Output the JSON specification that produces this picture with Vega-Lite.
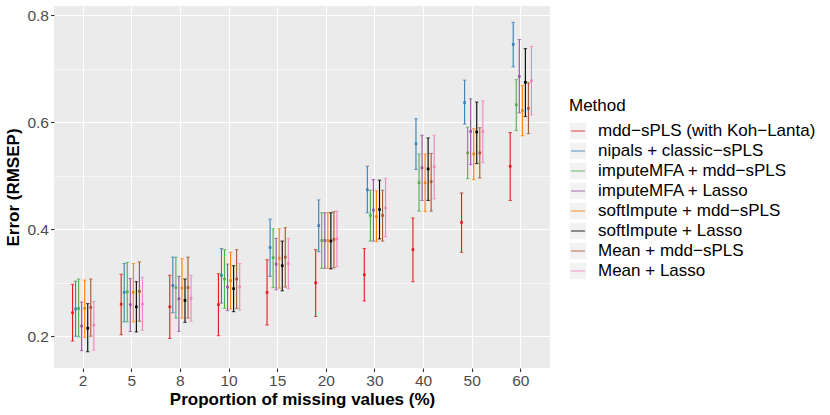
{
  "$schema": "https://vega.github.io/schema/vega-lite/v6.json",
  "width": 496,
  "height": 362,
  "autosize": {"type": "none"},
  "padding": {"left": 54, "top": 6, "right": 280, "bottom": 47},
  "background": "white",
  "data": {
    "values": [
      {"pct": 2, "method": "mdd−sPLS (with Koh−Lanta)", "mean": 0.244, "lo": 0.191, "hi": 0.297},
      {"pct": 2, "method": "nipals + classic−sPLS", "mean": 0.251, "lo": 0.200, "hi": 0.303},
      {"pct": 2, "method": "imputeMFA + mdd−sPLS", "mean": 0.252, "lo": 0.199, "hi": 0.307},
      {"pct": 2, "method": "imputeMFA + Lasso", "mean": 0.219, "lo": 0.173, "hi": 0.264},
      {"pct": 2, "method": "softImpute + mdd−sPLS", "mean": 0.252, "lo": 0.198, "hi": 0.305},
      {"pct": 2, "method": "softImpute + Lasso", "mean": 0.215, "lo": 0.171, "hi": 0.261},
      {"pct": 2, "method": "Mean + mdd−sPLS", "mean": 0.254, "lo": 0.200, "hi": 0.307},
      {"pct": 2, "method": "Mean + Lasso", "mean": 0.221, "lo": 0.174, "hi": 0.265},
      {"pct": 5, "method": "mdd−sPLS (with Koh−Lanta)", "mean": 0.260, "lo": 0.203, "hi": 0.316},
      {"pct": 5, "method": "nipals + classic−sPLS", "mean": 0.282, "lo": 0.227, "hi": 0.336},
      {"pct": 5, "method": "imputeMFA + mdd−sPLS", "mean": 0.283, "lo": 0.227, "hi": 0.338},
      {"pct": 5, "method": "imputeMFA + Lasso", "mean": 0.259, "lo": 0.209, "hi": 0.308},
      {"pct": 5, "method": "softImpute + mdd−sPLS", "mean": 0.282, "lo": 0.227, "hi": 0.336},
      {"pct": 5, "method": "softImpute + Lasso", "mean": 0.255, "lo": 0.208, "hi": 0.302},
      {"pct": 5, "method": "Mean + mdd−sPLS", "mean": 0.284, "lo": 0.228, "hi": 0.339},
      {"pct": 5, "method": "Mean + Lasso", "mean": 0.260, "lo": 0.211, "hi": 0.310},
      {"pct": 8, "method": "mdd−sPLS (with Koh−Lanta)", "mean": 0.255, "lo": 0.196, "hi": 0.314},
      {"pct": 8, "method": "nipals + classic−sPLS", "mean": 0.295, "lo": 0.244, "hi": 0.348},
      {"pct": 8, "method": "imputeMFA + mdd−sPLS", "mean": 0.291, "lo": 0.234, "hi": 0.348},
      {"pct": 8, "method": "imputeMFA + Lasso", "mean": 0.270, "lo": 0.209, "hi": 0.312},
      {"pct": 8, "method": "softImpute + mdd−sPLS", "mean": 0.290, "lo": 0.234, "hi": 0.345},
      {"pct": 8, "method": "softImpute + Lasso", "mean": 0.267, "lo": 0.226, "hi": 0.307},
      {"pct": 8, "method": "Mean + mdd−sPLS", "mean": 0.291, "lo": 0.234, "hi": 0.348},
      {"pct": 8, "method": "Mean + Lasso", "mean": 0.271, "lo": 0.228, "hi": 0.314},
      {"pct": 10, "method": "mdd−sPLS (with Koh−Lanta)", "mean": 0.259, "lo": 0.201, "hi": 0.317},
      {"pct": 10, "method": "nipals + classic−sPLS", "mean": 0.314, "lo": 0.262, "hi": 0.364},
      {"pct": 10, "method": "imputeMFA + mdd−sPLS", "mean": 0.307, "lo": 0.252, "hi": 0.362},
      {"pct": 10, "method": "imputeMFA + Lasso", "mean": 0.292, "lo": 0.248, "hi": 0.335},
      {"pct": 10, "method": "softImpute + mdd−sPLS", "mean": 0.304, "lo": 0.251, "hi": 0.357},
      {"pct": 10, "method": "softImpute + Lasso", "mean": 0.289, "lo": 0.246, "hi": 0.332},
      {"pct": 10, "method": "Mean + mdd−sPLS", "mean": 0.307, "lo": 0.252, "hi": 0.362},
      {"pct": 10, "method": "Mean + Lasso", "mean": 0.292, "lo": 0.249, "hi": 0.336},
      {"pct": 15, "method": "mdd−sPLS (with Koh−Lanta)", "mean": 0.282, "lo": 0.221, "hi": 0.343},
      {"pct": 15, "method": "nipals + classic−sPLS", "mean": 0.366, "lo": 0.312, "hi": 0.419},
      {"pct": 15, "method": "imputeMFA + mdd−sPLS", "mean": 0.347, "lo": 0.291, "hi": 0.401},
      {"pct": 15, "method": "imputeMFA + Lasso", "mean": 0.335, "lo": 0.287, "hi": 0.383},
      {"pct": 15, "method": "softImpute + mdd−sPLS", "mean": 0.346, "lo": 0.290, "hi": 0.401},
      {"pct": 15, "method": "softImpute + Lasso", "mean": 0.332, "lo": 0.285, "hi": 0.378},
      {"pct": 15, "method": "Mean + mdd−sPLS", "mean": 0.348, "lo": 0.292, "hi": 0.403},
      {"pct": 15, "method": "Mean + Lasso", "mean": 0.336, "lo": 0.289, "hi": 0.383},
      {"pct": 20, "method": "mdd−sPLS (with Koh−Lanta)", "mean": 0.300, "lo": 0.237, "hi": 0.362},
      {"pct": 20, "method": "nipals + classic−sPLS", "mean": 0.407, "lo": 0.358, "hi": 0.455},
      {"pct": 20, "method": "imputeMFA + mdd−sPLS", "mean": 0.379, "lo": 0.327, "hi": 0.431},
      {"pct": 20, "method": "imputeMFA + Lasso", "mean": 0.379, "lo": 0.327, "hi": 0.431},
      {"pct": 20, "method": "softImpute + mdd−sPLS", "mean": 0.379, "lo": 0.327, "hi": 0.431},
      {"pct": 20, "method": "softImpute + Lasso", "mean": 0.378, "lo": 0.326, "hi": 0.431},
      {"pct": 20, "method": "Mean + mdd−sPLS", "mean": 0.381, "lo": 0.328, "hi": 0.433},
      {"pct": 20, "method": "Mean + Lasso", "mean": 0.382, "lo": 0.330, "hi": 0.434},
      {"pct": 30, "method": "mdd−sPLS (with Koh−Lanta)", "mean": 0.315, "lo": 0.266, "hi": 0.364},
      {"pct": 30, "method": "nipals + classic−sPLS", "mean": 0.474, "lo": 0.431, "hi": 0.518},
      {"pct": 30, "method": "imputeMFA + mdd−sPLS", "mean": 0.426, "lo": 0.378, "hi": 0.473},
      {"pct": 30, "method": "imputeMFA + Lasso", "mean": 0.436, "lo": 0.378, "hi": 0.493},
      {"pct": 30, "method": "softImpute + mdd−sPLS", "mean": 0.424, "lo": 0.377, "hi": 0.472},
      {"pct": 30, "method": "softImpute + Lasso", "mean": 0.437, "lo": 0.382, "hi": 0.492},
      {"pct": 30, "method": "Mean + mdd−sPLS", "mean": 0.426, "lo": 0.378, "hi": 0.473},
      {"pct": 30, "method": "Mean + Lasso", "mean": 0.440, "lo": 0.386, "hi": 0.495},
      {"pct": 40, "method": "mdd−sPLS (with Koh−Lanta)", "mean": 0.362, "lo": 0.302, "hi": 0.421},
      {"pct": 40, "method": "nipals + classic−sPLS", "mean": 0.560, "lo": 0.512, "hi": 0.607},
      {"pct": 40, "method": "imputeMFA + mdd−sPLS", "mean": 0.487, "lo": 0.434, "hi": 0.541},
      {"pct": 40, "method": "imputeMFA + Lasso", "mean": 0.515, "lo": 0.454, "hi": 0.576},
      {"pct": 40, "method": "softImpute + mdd−sPLS", "mean": 0.487, "lo": 0.433, "hi": 0.541},
      {"pct": 40, "method": "softImpute + Lasso", "mean": 0.513, "lo": 0.454, "hi": 0.571},
      {"pct": 40, "method": "Mean + mdd−sPLS", "mean": 0.489, "lo": 0.434, "hi": 0.542},
      {"pct": 40, "method": "Mean + Lasso", "mean": 0.517, "lo": 0.457, "hi": 0.576},
      {"pct": 50, "method": "mdd−sPLS (with Koh−Lanta)", "mean": 0.413, "lo": 0.357, "hi": 0.468},
      {"pct": 50, "method": "nipals + classic−sPLS", "mean": 0.637, "lo": 0.597, "hi": 0.679},
      {"pct": 50, "method": "imputeMFA + mdd−sPLS", "mean": 0.543, "lo": 0.495, "hi": 0.591},
      {"pct": 50, "method": "imputeMFA + Lasso", "mean": 0.583, "lo": 0.521, "hi": 0.644},
      {"pct": 50, "method": "softImpute + mdd−sPLS", "mean": 0.541, "lo": 0.493, "hi": 0.588},
      {"pct": 50, "method": "softImpute + Lasso", "mean": 0.582, "lo": 0.523, "hi": 0.638},
      {"pct": 50, "method": "Mean + mdd−sPLS", "mean": 0.543, "lo": 0.496, "hi": 0.590},
      {"pct": 50, "method": "Mean + Lasso", "mean": 0.583, "lo": 0.525, "hi": 0.640},
      {"pct": 60, "method": "mdd−sPLS (with Koh−Lanta)", "mean": 0.518, "lo": 0.454, "hi": 0.581},
      {"pct": 60, "method": "nipals + classic−sPLS", "mean": 0.746, "lo": 0.704, "hi": 0.787},
      {"pct": 60, "method": "imputeMFA + mdd−sPLS", "mean": 0.633, "lo": 0.585, "hi": 0.680},
      {"pct": 60, "method": "imputeMFA + Lasso", "mean": 0.686, "lo": 0.618, "hi": 0.755},
      {"pct": 60, "method": "softImpute + mdd−sPLS", "mean": 0.622, "lo": 0.575, "hi": 0.669},
      {"pct": 60, "method": "softImpute + Lasso", "mean": 0.675, "lo": 0.611, "hi": 0.738},
      {"pct": 60, "method": "Mean + mdd−sPLS", "mean": 0.626, "lo": 0.579, "hi": 0.674},
      {"pct": 60, "method": "Mean + Lasso", "mean": 0.678, "lo": 0.614, "hi": 0.742}
    ]
  },
  "encoding": {
    "x": {
      "field": "pct",
      "type": "ordinal",
      "title": "Proportion of missing values (%)",
      "scale": {"type": "band", "paddingInner": 0.375, "paddingOuter": 0.2875},
      "axis": {"labelAngle": 0, "bandPosition": 0.5, "grid": true}
    },
    "xOffset": {
      "field": "method",
      "type": "nominal",
      "scale": {
        "domain": ["mdd−sPLS (with Koh−Lanta)", "nipals + classic−sPLS", "imputeMFA + mdd−sPLS", "imputeMFA + Lasso", "softImpute + mdd−sPLS", "softImpute + Lasso", "Mean + mdd−sPLS", "Mean + Lasso"],
        "paddingInner": 0,
        "paddingOuter": 1
      }
    }
  },
  "layer": [
    {
      "mark": {"type": "rule", "strokeWidth": 1.1},
      "encoding": {
        "y": {
          "field": "lo",
          "type": "quantitative",
          "title": "Error (RMSEP)",
          "scale": {"domain": [0.1406, 0.8177], "nice": false, "zero": false},
          "axis": {
            "values": [0.2, 0.3, 0.4, 0.5, 0.6, 0.7, 0.8],
            "labelExpr": "datum.value == 0.3 || datum.value == 0.5 || datum.value == 0.7 ? '' : format(datum.value, '.1f')",
            "gridWidth": {"condition": {"test": "datum.value == 0.3 || datum.value == 0.5 || datum.value == 0.7", "value": 0.55}, "value": 1.1},
            "tickOpacity": {"condition": {"test": "datum.value == 0.3 || datum.value == 0.5 || datum.value == 0.7", "value": 0}, "value": 1},
            "titlePadding": 4
          }
        },
        "y2": {"field": "hi"},
        "color": {
          "field": "method",
          "type": "nominal",
          "scale": {
            "domain": ["mdd−sPLS (with Koh−Lanta)", "nipals + classic−sPLS", "imputeMFA + mdd−sPLS", "imputeMFA + Lasso", "softImpute + mdd−sPLS", "softImpute + Lasso", "Mean + mdd−sPLS", "Mean + Lasso"],
            "range": ["#E41A1C", "#377EB8", "#4DAF4A", "#984EA3", "#FF7F00", "#000000", "#A65628", "#F781BF"]
          },
          "legend": {
            "title": "Method",
            "orient": "none",
            "legendX": 515,
            "legendY": 92,
            "zindex": 1,
            "symbolType": "M-1,-1M-0.85,0L0.85,0M1,1",
            "symbolSize": 266,
            "symbolStrokeWidth": 1.2
          }
        }
      }
    },
    {
      "mark": {"type": "tick", "orient": "horizontal", "size": 3.5, "thickness": 1.1},
      "encoding": {
        "y": {"field": "lo", "type": "quantitative"},
        "color": {"field": "method", "type": "nominal"}
      }
    },
    {
      "mark": {"type": "tick", "orient": "horizontal", "size": 3.5, "thickness": 1.1},
      "encoding": {
        "y": {"field": "hi", "type": "quantitative"},
        "color": {"field": "method", "type": "nominal"}
      }
    },
    {
      "mark": {"type": "square", "size": 7, "opacity": 1},
      "encoding": {
        "y": {"field": "mean", "type": "quantitative"},
        "color": {"field": "method", "type": "nominal"}
      }
    },
    {
      "mark": {"type": "point", "filled": true, "opacity": 0, "size": 1},
      "encoding": {
        "y": {"field": "mean", "type": "quantitative"},
        "fill": {
          "field": "method",
          "type": "nominal",
          "sort": null,
          "scale": {"range": ["#F2F2F2", "#F2F2F2", "#F2F2F2", "#F2F2F2", "#F2F2F2", "#F2F2F2", "#F2F2F2", "#F2F2F2"]},
          "legend": {
            "title": " ",
            "orient": "none",
            "legendX": 515,
            "legendY": 92,
            "zindex": 0,
            "symbolType": "square",
            "symbolSize": 266,
            "symbolStrokeWidth": 1.2,
            "symbolStrokeColor": "transparent",
            "symbolOpacity": 1,
            "labelExpr": "''"
          }
        }
      }
    }
  ],
  "config": {
    "font": "Liberation Sans",
    "view": {"fill": "#EBEBEB", "stroke": null},
    "axis": {
      "domain": false,
      "grid": true,
      "gridColor": "#FFFFFF",
      "gridWidth": 1.1,
      "tickColor": "#333333",
      "tickSize": 3.5,
      "tickWidth": 1.1,
      "labelColor": "#4D4D4D",
      "labelFont": "Liberation Sans",
      "labelFontSize": 15.5,
      "labelPadding": 2,
      "titleFont": "Liberation Sans",
      "titleFontSize": 17,
      "titleFontWeight": "bold",
      "titleColor": "#000000",
      "titlePadding": 2
    },
    "legend": {
      "padding": 0,
      "titleFont": "Liberation Sans",
      "titleFontSize": 17,
      "titleFontWeight": "normal",
      "titleColor": "#000000",
      "titlePadding": 7,
      "labelFont": "Liberation Sans",
      "labelFontSize": 17,
      "labelColor": "#000000",
      "labelLimit": 400,
      "labelOffset": 11,
      "rowPadding": -4.4
    }
  }
}
